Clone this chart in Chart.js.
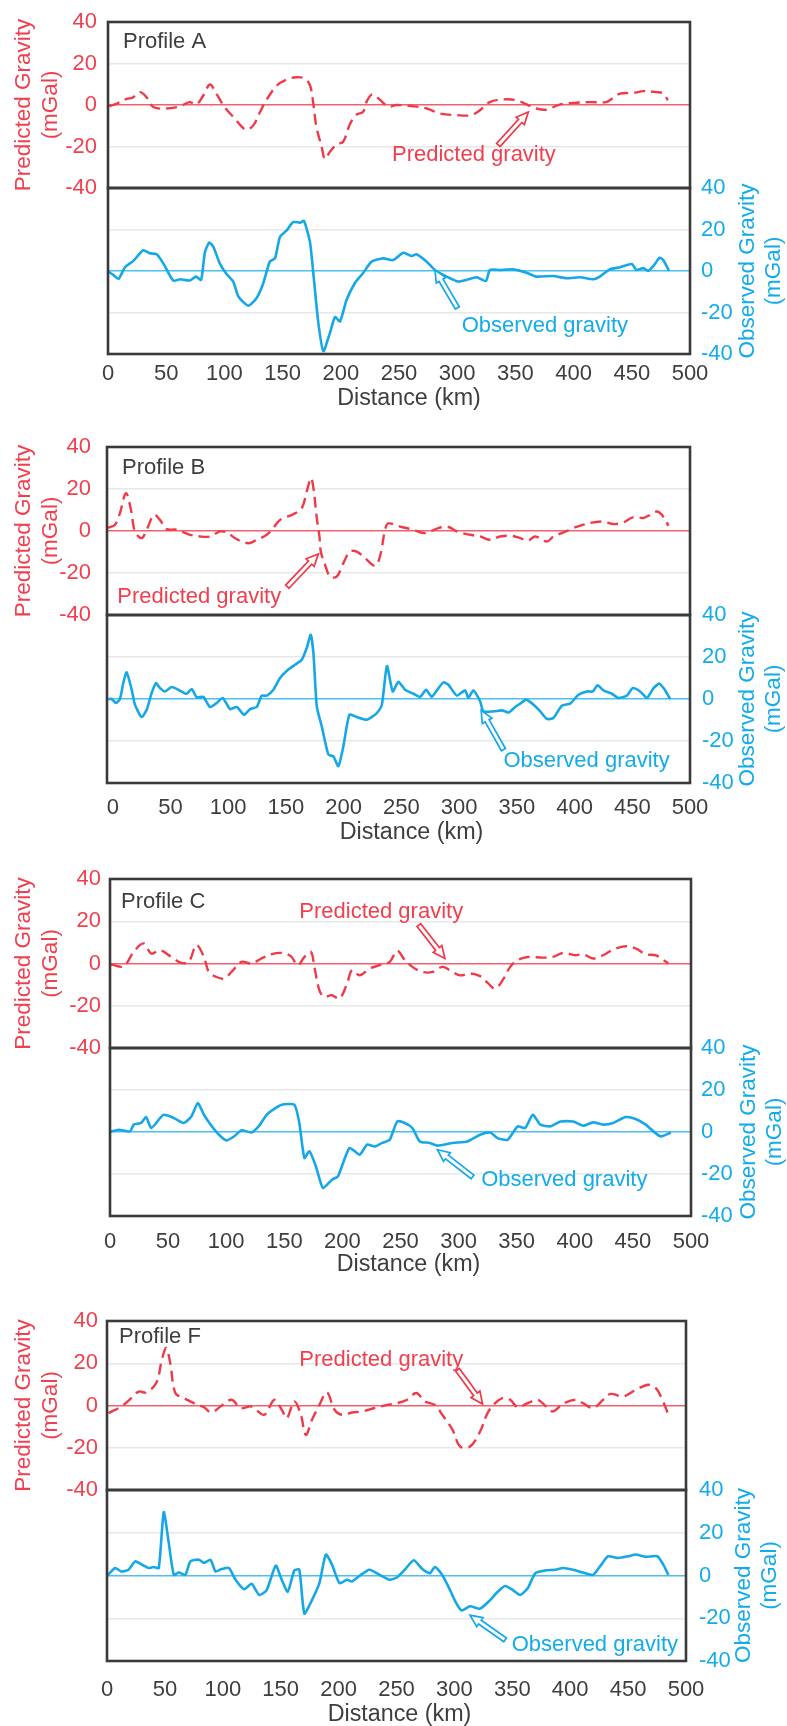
<!DOCTYPE html>
<html><head><meta charset="utf-8">
<script src="https://cdn.jsdelivr.net/npm/chart.js@4.4.0/dist/chart.umd.min.js"></script>
<style>
html,body{margin:0;padding:0;background:#fff;}
#wrap{position:relative;width:787px;height:1726px;overflow:hidden;background:#fff;}
#wrap canvas{position:absolute;left:0;}
</style></head><body><div id="wrap"></div>
<script>
// ---------- DATA ----------
const X_TICKS = [0,50,100,150,200,250,300,350,400,450,500];
const Y_TICKS = [-40,-20,0,20,40];
const PROFILE_NAMES = ['Profile A','Profile B','Profile C','Profile F'];

// [distance km, gravity mGal]
const A_PRED = [[1,-0.6],[6,0.3],[16,3],[21,3.5],[27.5,6.2],[33,3.8],[39,-1],[50,-1.7],[62,-0.6],[70,1.4],[76,0.3],[82,4.7],[87.6,9.9],[93,5.5],[100.5,-1.3],[107.6,-5.7],[115,-10.5],[119,-12],[125,-9.7],[130.6,-3.4],[136,2.3],[145,9.4],[153.5,12.3],[162,13.4],[169,12.7],[173.5,9.5],[176,2.3],[179,-10.5],[183.5,-20],[186.4,-26],[190.7,-22.5],[196.5,-19],[202,-17.7],[208,-9],[213.6,-4.6],[219,-3.4],[222,1.4],[227,5.1],[233.6,2.5],[240.8,-0.8],[248,0],[262,-0.6],[273.8,-1.7],[285,-4.1],[299.5,-4.9],[312,-4.9],[319.6,-2.5],[328,1.4],[339.6,2.7],[351,2.3],[359.6,0.3],[368,-1.7],[377,-2.2],[388,0.2],[399.7,1],[414,1.4],[428,1.4],[434,3.4],[440,5.5],[451,5.8],[460,6.7],[471,6.2],[477,5.5],[481,2.3]];
const A_OBS = [[0,-0.3],[4.6,-1.9],[9,-3.8],[14.6,1.8],[21.8,4.9],[30.3,10],[36,8.5],[41.8,8.1],[47.5,3.7],[56,-4.6],[62,-4],[70.4,-4.6],[75.6,-2.7],[80,-4.3],[83.3,9.2],[87,13.7],[90.5,11.6],[96,3.7],[102,-1.6],[107.6,-5.1],[112,-12.3],[120.5,-16.7],[127.7,-13],[133.4,-5.9],[139,4.5],[143.5,6.1],[147.7,16.4],[153.5,19.6],[159,23.6],[165,23.3],[168.4,24.1],[173.5,14],[176.4,-1.1],[180.7,-25],[185,-38.6],[190.7,-29.8],[195,-22.2],[199.3,-24.3],[205,-13.9],[212,-5.9],[219,-1.1],[226.5,4.5],[236.5,6.1],[245,5.3],[253.7,8.8],[261,7.2],[265,8.1],[273.8,4.5],[281.7,0.1],[291,-2.7],[301,-5.1],[308,-4.3],[316.7,-3],[324.7,-4.8],[328,0.5],[336.7,0.5],[348,0.8],[359.6,-0.8],[368,-2.7],[382.6,-2.4],[394,-3.5],[405.5,-3],[417,-4],[422.6,-2.7],[431,0.8],[440,1.8],[450,3.4],[454,0.5],[460,1.4],[464,0.1],[468.5,2.4],[474,6.4],[477,5.3],[482,0.1]];

const B_PRED = [[-4,1.5],[1.9,3],[6.2,8.5],[11.4,18],[15.8,10],[19.2,-0.2],[25,-3.4],[29.4,0.6],[35.7,7.7],[40.9,5.3],[46.7,0.9],[55.4,0.6],[66.9,-1.8],[75.6,-2.6],[84.2,-2.6],[92.9,-0.2],[98.7,-0.7],[107.4,-3.9],[117.4,-5.8],[124.7,-4.2],[133.4,-1.8],[139,1.4],[144.9,5.3],[156.4,8],[163.7,10.9],[168,18.8],[171.7,25.2],[173.8,20.5],[176.7,6.2],[179,-2.6],[180.2,-9.8],[183.9,-16.1],[188.2,-21.7],[194,-21.7],[199.7,-15.3],[205.5,-9.8],[211.3,-9.8],[218.5,-12.9],[227.2,-16.6],[231.5,-12],[235.9,0.6],[238.7,3.6],[248.9,2.1],[260.4,0.6],[270.5,-1],[282,1.4],[290.7,1.9],[298,-0.2],[309.5,-1.8],[318.2,-2.6],[326.9,-4.2],[335.5,-2.6],[345.7,-2.3],[352.9,-3.4],[360,-4.5],[365.9,-2.6],[376,-5],[381.7,-2.6],[390.4,-0.7],[399,1.4],[407.7,3],[416.4,4.1],[425,4.5],[433.7,3.3],[442.4,4.1],[451,6.6],[459.7,6.2],[464,7.3],[471.3,9.3],[475.6,7.7],[481.4,2.5]];
const B_OBS = [[-4,0],[-1,0],[2.8,-1.9],[6.2,0],[9.1,7.6],[12,12.7],[16.4,4.4],[19.2,-2.7],[25,-8.6],[29.4,-5.1],[33.7,2.9],[37.4,7.6],[40.9,5.2],[45.2,3.6],[51,5.7],[56.8,4.4],[64,2.5],[68.4,4.8],[72.7,0.8],[78.4,1],[84.2,-3.8],[90,-1.9],[95.2,0.5],[101.6,-4.8],[107.4,-3.8],[113.7,-7.5],[118.9,-4.8],[124.7,-3.8],[129,1.6],[133.4,1.6],[139.1,4.4],[144.9,10],[152.1,14],[157.9,16.3],[163.7,18.7],[168,24.3],[171.5,30.6],[173.8,21.9],[176.7,-3.5],[181,-13],[186.8,-26.5],[191.1,-27.3],[195.4,-32],[199.7,-22.6],[205,-7.5],[211.3,-8.6],[220,-9.9],[228.7,-6.7],[233,-3],[237.5,15.7],[242.5,3.6],[247.4,8.2],[253.2,4.4],[260.4,2.5],[266.2,1],[271.4,4.4],[276.3,1],[280.7,4.1],[286.4,7.9],[290.7,6.8],[298,1.6],[305.2,4.1],[308,0.5],[312.4,4.1],[318.2,-1.1],[321.1,-5.9],[329.7,-5.9],[337,-5.4],[342.8,-6.4],[348.6,-3.8],[352.9,-2.2],[358.1,-0.3],[364.5,-2.7],[370.3,-5.9],[376,-9.5],[381.7,-9],[389,-3.2],[396.2,-2.2],[403.4,2],[410.7,3.6],[415.9,3.6],[419.9,6.5],[425,4.1],[432.3,2.5],[438,0.5],[445.3,1.6],[450.5,5.2],[456.8,3.6],[462.7,0.5],[468.4,5.2],[473.6,7.3],[478.5,4.1],[482.8,0]];

const C_PRED = [[0.9,-0.5],[11.7,-1.3],[20.4,5.5],[29,9.5],[35.5,4.7],[43.2,6.3],[52.8,3.1],[61.4,0.3],[67.8,0.8],[74.4,8.7],[80.8,3.1],[85.1,-4],[91.6,-6.4],[98.1,-7.1],[104.6,-4],[113.2,0.8],[121.9,0],[130.5,2.4],[139.2,4.4],[147.8,5],[155.6,3.5],[161.6,-0.8],[167.3,3.1],[172.9,5.5],[175.9,-1.6],[180.2,-12.7],[184.5,-15.8],[191,-15],[197.5,-16.6],[204,-9.5],[208.3,-3.2],[214.8,-5.6],[223.4,-2.4],[232.1,-0.8],[240.7,0.8],[247.2,6],[253.7,1.6],[260.2,-1.6],[268.8,-4],[277.5,-4],[286.1,-1.6],[292.5,-3.2],[301.2,-5.6],[309.8,-4.7],[318.5,-6],[325,-9.2],[331.5,-11.9],[337.9,-7.9],[344.4,-1.6],[350.9,1.6],[359.5,3.1],[372.5,2.8],[381.2,3.1],[389.8,5],[400.6,3.9],[407.1,4.4],[415.7,2.4],[424.3,3.9],[433,6.6],[443.8,8.2],[452.4,7.1],[461,4.4],[469.7,3.9],[476.2,1.6],[480.5,0]];
const C_OBS = [[0,0],[7.4,1.1],[17.3,0.3],[20.4,3.5],[26.8,4.3],[31.1,7.1],[35.5,1.9],[43.2,6.7],[46.3,8.2],[54.9,6.7],[63.5,4.3],[70,7.4],[75.7,13.8],[80.8,8.2],[87.3,3],[93.8,-1.3],[100.3,-4],[106.8,-2.1],[113.2,0.8],[121.9,-0.2],[128.4,3],[134.8,8.2],[141.4,11],[147.8,13],[158.6,13],[162.9,4.3],[167.3,-12.4],[171.6,-9.2],[177.2,-16.4],[183.3,-26.7],[191,-22.7],[196.2,-21.1],[206.1,-7.6],[214.8,-10.8],[221.2,-6],[227.8,-6.9],[234.2,-5.2],[240.7,-3.7],[247.2,5],[253.7,4.3],[260.2,1.9],[266.6,-4.5],[275.2,-5.2],[281.8,-6.5],[294.8,-5.2],[307.6,-4.5],[318.5,-1.3],[327.1,-0.2],[333.6,-2.9],[342.2,-3.7],[350.9,2.7],[357.3,1.9],[363.9,8.2],[370.3,3.5],[379,2.7],[387.6,5],[398.5,5],[407.1,3],[415.7,4.6],[424.3,3.5],[433,4.3],[443.8,7.1],[452.4,6.2],[461,3.5],[467.6,0.3],[474,-2.1],[482.7,-0.2]];

const F_PRED = [[1.3,-3.6],[12.2,-0.5],[20,3],[27.4,6.6],[33.8,6.2],[42.5,10.6],[47.7,22.5],[51.2,27.2],[54.6,20.1],[59,5.9],[66.4,3.5],[75.1,1.1],[83.7,-0.8],[90.2,-3.3],[98.9,-0.1],[107.6,2.7],[115.4,-1.2],[124.9,-0.5],[135.7,-4.4],[144.4,2.7],[150.9,-2],[155.2,-6],[161.8,1.9],[167.4,-4.4],[171.7,-13.9],[177,-6.8],[183.4,0.3],[189.9,6.2],[196.5,-2],[202.9,-4.4],[211.6,-3.3],[220.3,-2.8],[231.1,-1.2],[241.9,0.3],[250.6,1.1],[259.3,2.7],[267.1,5.9],[274.5,1.9],[283.2,0.3],[289.6,-4.4],[298.4,-11.5],[304.8,-19.4],[313.5,-19.4],[322.2,-12.3],[328.6,-3.6],[335.2,1.1],[341.7,3.5],[348.2,2.7],[354.7,-0.8],[363.3,1.1],[372,2.7],[378.5,-0.1],[385,-2.8],[393.7,0.8],[404.6,2.7],[411.1,1.1],[419.8,-1.2],[428.4,2.7],[434.9,5.5],[445.7,4.3],[456.6,7.4],[467.4,9.8],[474,8.2],[479.6,2.7],[484.8,-4.4]];
const F_OBS = [[0.4,0],[7,3.5],[12.2,1.9],[18.6,2.7],[24.3,6.6],[31.7,4.6],[36,3.5],[40.4,4],[44.7,3.5],[49,29.6],[53.3,15.4],[57.7,0.3],[62,1.4],[67.6,0.3],[72,6.6],[79.4,7.4],[83.7,5.9],[89.4,7.4],[93.7,1.9],[98.9,3],[105.3,3.5],[111,-2],[118.4,-6.4],[124.9,-3.9],[131.4,-9.1],[137.9,-6.8],[145.7,4.6],[150.9,-2],[156.1,-7.6],[161.8,2.4],[166.1,2.7],[170.4,-17.8],[177,-11.5],[183.4,-3.6],[189,9.8],[194.3,5.1],[200.8,-3.6],[207.2,-2],[211.6,-2.8],[218.1,-0.1],[226.7,2.7],[235.5,0.3],[244.1,-2],[250.6,-0.8],[257.1,2.7],[265,7.1],[272.3,3],[278.8,1.1],[283.2,4],[288.8,0.8],[294.8,-5.2],[300.5,-11.8],[306.1,-16.3],[313.5,-14.4],[322.2,-15.5],[330.8,-11.5],[337.4,-7.6],[343.8,-4.9],[350.4,-6.8],[356.9,-9.1],[363.3,-6],[369.9,1.1],[378.5,2.4],[387.2,2.7],[393.7,3.5],[402.4,2.7],[411.1,1.4],[419.8,0.3],[426.2,4.6],[432.7,9],[441.4,8.2],[450,9],[456.6,9.8],[465.2,8.7],[475.2,9],[480.4,5.1],[484.8,0.3]];

const PRED_SERIES = [A_PRED, B_PRED, C_PRED, F_PRED];
const OBS_SERIES = [A_OBS, B_OBS, C_OBS, F_OBS];

// ---------- LAYOUT / STYLE ----------
const RED = '#ef3a49', RED_TXT = '#f0404f', RED_ZERO = '#f4606c';
const BLUE = '#16a8e6', BLUE_TXT = '#13ace9', BLUE_ZERO = '#4cc0ef';
const GRAY = '#3e3e3e', FRAME = '#3a3a3a', GRID = '#e8e8e8';
const FAMILY = "'Liberation Sans', Arial, Helvetica, sans-serif";
const W = 787, PAD = 14;
Chart.defaults.font.family = FAMILY;

// annotation anchors in data units (km, mGal)
const LAYOUT = [
 {L:108,R:690,T:22,M:188,B:354,xMin:0,lPad:11,rPad:11,xPad:7,xTitle:45,xTitleDx:10,lab:[15,20],
  predNote:{at:[244,-24.1],tail:[335.3,-19.3],head:[361.1,-3.4]},
  obsNote:{at:[303.9,-26.7],tail:[300.1,-17.8],head:[280.9,0.5]}},
 {L:107,R:690,T:447,M:615,B:783,xMin:-5,lPad:16,rPad:12,xPad:12,xTitle:50,xTitleDx:13,lab:[15,21],
  predNote:{at:[3.9,-31.3],tail:[151.2,-26.5],head:[178.1,-10.9]},
  obsNote:{at:[338.4,-29.7],tail:[338.4,-24.1],head:[319.1,-5.4]}},
 {L:110,R:691,T:879,M:1048,B:1216,xMin:0,lPad:9,rPad:10,xPad:13,xTitle:49,xTitleDx:8,lab:[11,23],
  predNote:{at:[162.9,24.5],tail:[265.8,18.2],head:[288.2,2.4]},
  obsNote:{at:[319.4,-22.7],tail:[312,-21.4],head:[281.8,-8.4]}},
 {L:107,R:686,T:1321,M:1490,B:1661,xMin:0,lPad:9,rPad:13,xPad:16,xTitle:54,xTitleDx:3,lab:[12,16],
  predNote:{at:[166.1,21.7],tail:[302.7,16.9],head:[324.3,0.7]},
  obsNote:{at:[349.5,-32.4],tail:[343.8,-30.1],head:[313.5,-18.6]}}
];

const wrap = document.getElementById('wrap');
function makeCanvas(top, height){
  const c = document.createElement('canvas');
  c.width = W; c.height = height;
  c.style.top = top + 'px'; c.style.width = W + 'px'; c.style.height = height + 'px';
  wrap.appendChild(c);
  return c;
}
const fixedTicks = vals => s => { s.ticks = vals.map(v => ({value: v})); };
function gridColor(ctx, zero){
  const v = ctx.tick ? ctx.tick.value : null;
  if (v === 0) return zero;
  if (Math.abs(v) === 40) return 'rgba(0,0,0,0)';
  return GRID;
}
function arrow(ctx, x1, y1, x2, y2, color){
  const dx = x2 - x1, dy = y2 - y1, len = Math.hypot(dx, dy);
  const ux = dx/len, uy = dy/len, nx = -uy, ny = ux;
  const hl = 12, hw = 5.5, sw = 2.3;
  const bx = x2 - ux*hl, by = y2 - uy*hl;
  ctx.beginPath();
  ctx.moveTo(x1 + nx*sw, y1 + ny*sw);
  ctx.lineTo(bx + nx*sw, by + ny*sw);
  ctx.lineTo(bx + nx*hw, by + ny*hw);
  ctx.lineTo(x2, y2);
  ctx.lineTo(bx - nx*hw, by - ny*hw);
  ctx.lineTo(bx - nx*sw, by - ny*sw);
  ctx.lineTo(x1 - nx*sw, y1 - ny*sw);
  ctx.closePath();
  ctx.fillStyle = '#fff'; ctx.fill();
  ctx.lineWidth = 1.7; ctx.strokeStyle = color; ctx.stroke();
}
function decor(cfg){
  return {id: 'decor', afterDraw(chart){
    const ctx = chart.ctx, a = chart.chartArea, xs = chart.scales.x, ys = chart.scales.y;
    ctx.save();
    const n = cfg.note;
    arrow(ctx, xs.getPixelForValue(n.tail[0]), ys.getPixelForValue(n.tail[1]),
               xs.getPixelForValue(n.head[0]), ys.getPixelForValue(n.head[1]), cfg.color);
    ctx.font = '22px ' + FAMILY; ctx.textAlign = 'left'; ctx.textBaseline = 'middle';
    ctx.fillStyle = cfg.textColor;
    ctx.fillText(cfg.text, xs.getPixelForValue(n.at[0]), ys.getPixelForValue(n.at[1]));
    if (cfg.label){
      ctx.fillStyle = GRAY;
      ctx.fillText(cfg.label, a.left + cfg.lab[0], a.top + cfg.lab[1]);
    }
    if (cfg.rightTitle){
      const yc = (a.top + a.bottom) / 2;
      ctx.font = '22.5px ' + FAMILY;
      ctx.fillStyle = BLUE_TXT; ctx.textAlign = 'center';
      cfg.rightTitle.forEach((t, i) => {
        ctx.save();
        ctx.translate(a.right + 58 + i*26, yc);
        ctx.rotate(-Math.PI/2);
        ctx.fillText(t, 0, 0);
        ctx.restore();
      });
    }
    if (cfg.xTitle){
      ctx.font = '23.3px ' + FAMILY;
      ctx.fillStyle = GRAY; ctx.textAlign = 'center'; ctx.textBaseline = 'middle';
      ctx.fillText(cfg.xTitle, (a.left + a.right) / 2 + cfg.xTitleDx, a.bottom + cfg.xTitleOff);
    }
    ctx.lineWidth = 2.6; ctx.strokeStyle = FRAME;
    ctx.strokeRect(a.left, a.top, a.right - a.left, a.bottom - a.top);
    ctx.restore();
  }};
}
const toXY = arr => arr.map(p => ({x: p[0], y: p[1]}));
const font22 = {size: 22, family: FAMILY};

LAYOUT.forEach((g, i) => {
  // upper: predicted gravity
  const c1 = makeCanvas(g.T - PAD, g.M - g.T + 2*PAD);
  new Chart(c1, {
    type: 'line',
    data: {datasets: [{data: toXY(PRED_SERIES[i]), borderColor: RED, borderWidth: 2.4,
      borderDash: [11, 6], pointRadius: 0, tension: 0.35, fill: false}]},
    options: {
      responsive: false, animation: false, events: [],
      layout: {padding: {left: 0, right: W - g.R, top: PAD, bottom: PAD}},
      plugins: {legend: {display: false}, tooltip: {enabled: false}},
      scales: {
        x: {type: 'linear', display: false, min: g.xMin, max: 500},
        y: {type: 'linear', position: 'left', min: -40, max: 40,
          afterBuildTicks: fixedTicks(Y_TICKS),
          afterFit: s => { s.width = g.L; s.paddingTop = 0; s.paddingBottom = 0; },
          ticks: {color: RED_TXT, font: font22, padding: g.lPad},
          grid: {drawTicks: false, color: c => gridColor(c, RED_ZERO), lineWidth: 1.5},
          border: {display: false},
          title: {display: true, text: ['Predicted Gravity', '(mGal)'], color: RED_TXT,
            font: {size: 22.5, family: FAMILY}, padding: {top: 10, bottom: 0}}
        }
      }
    },
    plugins: [decor({note: g.predNote, color: RED, textColor: RED_TXT, text: 'Predicted gravity',
      label: PROFILE_NAMES[i], lab: g.lab})]
  });

  // lower: observed gravity
  const Hx = g.xTitle + 14;
  const c2 = makeCanvas(g.M - PAD, PAD + (g.B - g.M) + Hx + 4);
  new Chart(c2, {
    type: 'line',
    data: {datasets: [{data: toXY(OBS_SERIES[i]), borderColor: BLUE, borderWidth: 2.6,
      pointRadius: 0, tension: 0.2, fill: false}]},
    options: {
      responsive: false, animation: false, events: [],
      layout: {padding: {left: g.L, right: 0, top: PAD, bottom: 4}},
      plugins: {legend: {display: false}, tooltip: {enabled: false}},
      scales: {
        x: {type: 'linear', position: 'bottom', min: g.xMin, max: 500,
          afterBuildTicks: fixedTicks(X_TICKS),
          afterFit: s => { s.height = Hx; s.paddingLeft = 0; s.paddingRight = 0; },
          ticks: {color: GRAY, font: font22, padding: g.xPad, maxRotation: 0, autoSkip: false},
          grid: {display: false, drawTicks: false},
          border: {display: false}
        },
        y: {type: 'linear', position: 'right', min: -40, max: 40,
          afterBuildTicks: fixedTicks(Y_TICKS),
          afterFit: s => { s.width = W - g.R; s.paddingTop = 0; s.paddingBottom = 0; },
          ticks: {color: BLUE_TXT, font: font22, padding: g.rPad},
          grid: {drawTicks: false, color: c => gridColor(c, BLUE_ZERO), lineWidth: 1.5},
          border: {display: false}
        }
      }
    },
    plugins: [decor({note: g.obsNote, color: BLUE, textColor: BLUE_TXT, text: 'Observed gravity',
      rightTitle: ['Observed Gravity', '(mGal)'],
      xTitle: 'Distance (km)', xTitleOff: g.xTitle, xTitleDx: g.xTitleDx})]
  });
});
</script>
</body></html>
